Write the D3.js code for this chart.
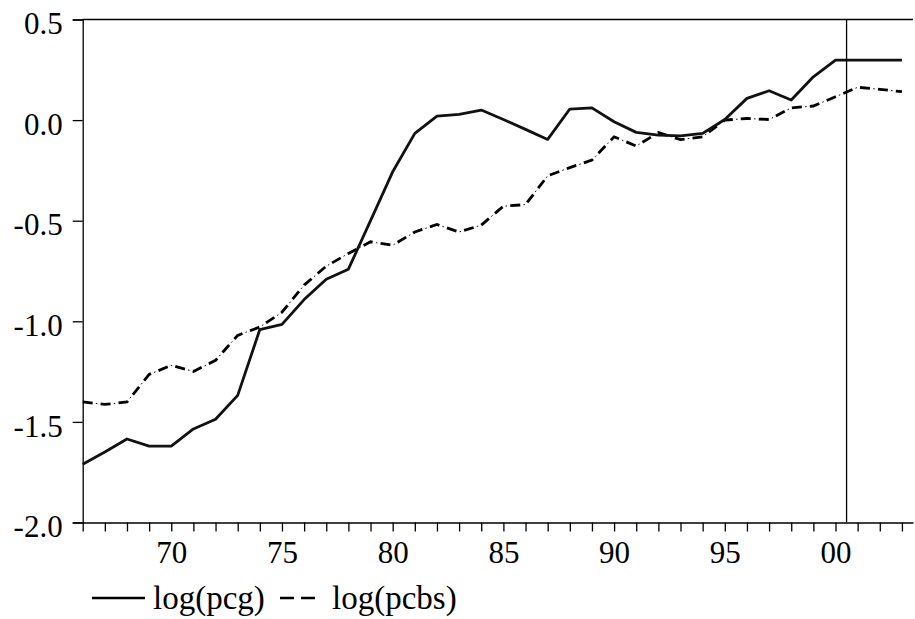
<!DOCTYPE html>
<html>
<head>
<meta charset="utf-8">
<script src="https://d3js.org/d3.v7.min.js"></script>
<style>
  html, body { margin: 0; padding: 0; background: #fff; }
  svg { display: block; }
  text { font-family: "Liberation Serif", "Times New Roman", serif; fill: #000; }
</style>
</head>
<body>
<div id="chart"></div>
<script>
// annual observations 1966-2003
var years = d3.range(1966, 2004);

var pcg = [
  -1.71, -1.65, -1.585, -1.62, -1.62, -1.535, -1.487, -1.368, -1.041, -1.015,
  -0.892, -0.791, -0.741, -0.50, -0.257, -0.066, 0.02, 0.028, 0.05, 0.003,
  -0.046, -0.096, 0.055, 0.061, -0.008, -0.061, -0.075, -0.078, -0.066, 0.003,
  0.108, 0.146, 0.10, 0.215, 0.298, 0.298, 0.298, 0.298
];

var pcbs = [
  -1.401, -1.413, -1.401, -1.264, -1.219, -1.249, -1.194, -1.07, -1.028, -0.955,
  -0.82, -0.726, -0.663, -0.605, -0.622, -0.556, -0.519, -0.556, -0.522, -0.428,
  -0.42, -0.277, -0.236, -0.199, -0.083, -0.129, -0.062, -0.097, -0.083, 0.0,
  0.008, 0.003, 0.061, 0.07, 0.116, 0.163, 0.153, 0.141
];

var yTicks = [0.5, 0.0, -0.5, -1.0, -1.5, -2.0];
var xLabelYears = [1970, 1975, 1980, 1985, 1990, 1995, 2000];
var splitYear = 2000.5;
var seriesNames = ["log(pcg)", "log(pcbs)"];

var width = 915, height = 619;
var plot = { left: 82.7, right: 913, top: 19.5, bottom: 522.5 };
var serif = "'Liberation Serif', 'Times New Roman', serif";

var svg = d3.select("#chart").append("svg")
  .attr("width", width)
  .attr("height", height);

var x = d3.scaleLinear().domain([1966, 2003.5]).range([plot.left, plot.right]);
var y = d3.scaleLinear().domain([-2, 0.5]).range([plot.bottom, plot.top]);

// plain hyphen for negatives, one decimal
var fmtY = function (d) { return d.toFixed(1); };

// left axis
var yAxis = svg.append("g")
  .attr("transform", "translate(" + plot.left + ",0)")
  .call(d3.axisLeft(y).tickValues(yTicks).tickSize(10).tickPadding(10)
    .tickFormat(fmtY));
yAxis.attr("font-family", serif);
yAxis.select(".domain").attr("stroke", "#000").attr("stroke-width", 1.3);
yAxis.selectAll(".tick line").attr("stroke", "#000").attr("stroke-width", 1.3);
yAxis.selectAll(".tick text")
  .attr("font-size", 31)
  .attr("dy", "0.46em");

// bottom axis, one tick per year
var xAxis = svg.append("g")
  .attr("transform", "translate(0," + plot.bottom + ")")
  .call(d3.axisBottom(x).tickValues(years).tickSize(9).tickSizeOuter(0)
    .tickFormat(function (d) {
      return xLabelYears.indexOf(d) >= 0 ? d3.format("02d")(d % 100) : "";
    }));
xAxis.attr("font-family", serif);
xAxis.select(".domain").attr("stroke", "#000").attr("stroke-width", 1.3);
xAxis.selectAll(".tick line").attr("stroke", "#000").attr("stroke-width", 1.3);
xAxis.selectAll(".tick text")
  .attr("font-size", 31)
  .attr("dy", "0.92em");

// top frame line
svg.append("line")
  .attr("x1", plot.left).attr("x2", plot.right)
  .attr("y1", plot.top).attr("y2", plot.top)
  .attr("stroke", "#000").attr("stroke-width", 1.3);

// sample split marker
svg.append("line")
  .attr("x1", x(splitYear)).attr("x2", x(splitYear))
  .attr("y1", plot.top).attr("y2", plot.bottom)
  .attr("stroke", "#000").attr("stroke-width", 1.3);

var line = d3.line()
  .x(function (d, i) { return x(years[i]); })
  .y(function (d) { return y(d); });

// log(pcbs): long dash with a thin dot in each gap
svg.append("path")
  .attr("d", line(pcbs))
  .attr("fill", "none")
  .attr("stroke", "#000")
  .attr("stroke-width", 2.8)
  .attr("stroke-dasharray", "10 8");
svg.append("path")
  .attr("d", line(pcbs))
  .attr("fill", "none")
  .attr("stroke", "#000")
  .attr("stroke-width", 1)
  .attr("stroke-dasharray", "1.5 16.5")
  .attr("stroke-dashoffset", -13.25);

// log(pcg): solid
svg.append("path")
  .attr("d", line(pcg))
  .attr("fill", "none")
  .attr("stroke", "#111")
  .attr("stroke-width", 2.8)
  .attr("stroke-linejoin", "round");

// legend
var legY = 598;
var legend = svg.append("g").attr("font-family", serif);
legend.append("line")
  .attr("x1", 92).attr("x2", 145)
  .attr("y1", legY).attr("y2", legY)
  .attr("stroke", "#000").attr("stroke-width", 2.4);
legend.append("text")
  .attr("x", 153).attr("y", legY + 11)
  .attr("font-size", 33)
  .text(seriesNames[0]);
legend.append("line")
  .attr("x1", 280).attr("x2", 315)
  .attr("y1", legY).attr("y2", legY)
  .attr("stroke", "#000").attr("stroke-width", 2.4)
  .attr("stroke-dasharray", "14 7");
legend.append("text")
  .attr("x", 332).attr("y", legY + 11)
  .attr("font-size", 33)
  .text(seriesNames[1]);
</script>
</body>
</html>
